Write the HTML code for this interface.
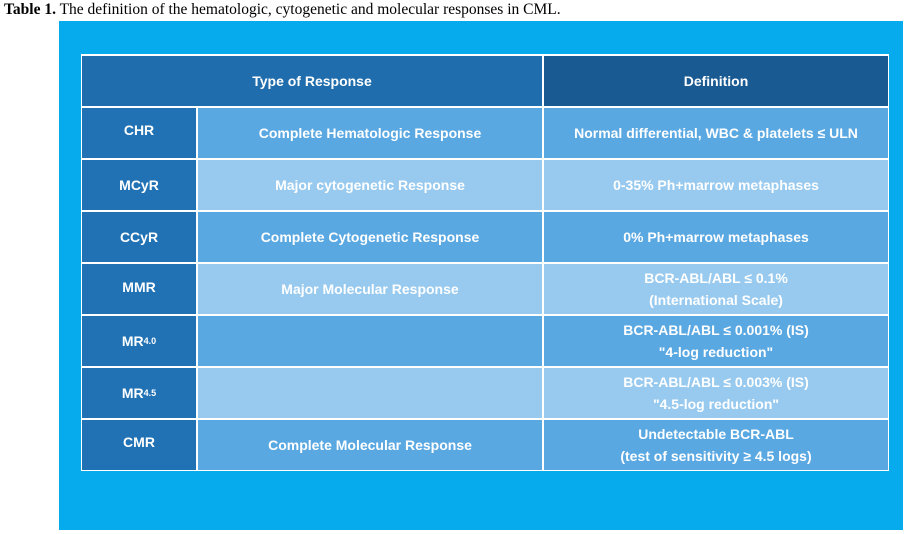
<!DOCTYPE html>
<html><head><meta charset="utf-8"><style>
body{margin:0;width:908px;height:534px;background:#fff;position:relative;overflow:hidden;font-family:"Liberation Sans",sans-serif}
.c{position:absolute;display:flex;align-items:center;justify-content:center;text-align:center;color:#fff;font-weight:bold;font-size:14px;line-height:22px}
.k{background:#2072b4}
.m{background:#5aa8e2}
.l{background:#98caef}
sup{font-size:9px;line-height:0}
</style></head><body>
<div style="position:absolute;left:4px;top:1px;font-family:'Liberation Serif',serif;font-size:15.5px;color:#000"><b>Table 1.</b> The definition of the hematologic, cytogenetic and molecular responses in CML.</div>
<div style="position:absolute;left:59px;top:21px;width:844px;height:509px;background:#05abec"></div>
<div style="position:absolute;left:81px;top:54px;width:808px;height:417px;background:#fff"></div>
<div class="c" style="left:82px;top:56px;width:460px;height:50px;background:#1f6dac">Type of Response</div>
<div class="c" style="left:544px;top:56px;width:344px;height:50px;background:#195a92">Definition</div>

<div class="c k" style="left:82px;top:108px;width:114px;height:50px;padding-bottom:6px;box-sizing:border-box">CHR</div>
<div class="c m" style="left:198px;top:108px;width:344px;height:50px">Complete Hematologic Response</div>
<div class="c m" style="left:544px;top:108px;width:344px;height:50px">Normal differential, WBC &amp; platelets ≤ ULN</div>

<div class="c k" style="left:82px;top:160px;width:114px;height:50px">MCyR</div>
<div class="c l" style="left:198px;top:160px;width:344px;height:50px">Major cytogenetic Response</div>
<div class="c l" style="left:544px;top:160px;width:344px;height:50px">0-35% Ph+marrow metaphases</div>

<div class="c k" style="left:82px;top:212px;width:114px;height:50px">CCyR</div>
<div class="c m" style="left:198px;top:212px;width:344px;height:50px">Complete Cytogenetic Response</div>
<div class="c m" style="left:544px;top:212px;width:344px;height:50px">0% Ph+marrow metaphases</div>

<div class="c k" style="left:82px;top:264px;width:114px;height:50px;padding-bottom:4px;box-sizing:border-box">MMR</div>
<div class="c l" style="left:198px;top:264px;width:344px;height:50px">Major Molecular Response</div>
<div class="c l" style="left:544px;top:264px;width:344px;height:50px">BCR-ABL/ABL ≤ 0.1%<br>(International Scale)</div>

<div class="c k" style="left:82px;top:316px;width:114px;height:50px">MR<sup>4.0</sup></div>
<div class="c m" style="left:198px;top:316px;width:344px;height:50px"></div>
<div class="c m" style="left:544px;top:316px;width:344px;height:50px">BCR-ABL/ABL ≤ 0.001% (IS)<br>"4-log reduction"</div>

<div class="c k" style="left:82px;top:368px;width:114px;height:50px">MR<sup>4.5</sup></div>
<div class="c l" style="left:198px;top:368px;width:344px;height:50px"></div>
<div class="c l" style="left:544px;top:368px;width:344px;height:50px">BCR-ABL/ABL ≤ 0.003% (IS)<br>"4.5-log reduction"</div>

<div class="c k" style="left:82px;top:420px;width:114px;height:50px;padding-bottom:6px;box-sizing:border-box">CMR</div>
<div class="c m" style="left:198px;top:420px;width:344px;height:50px">Complete Molecular Response</div>
<div class="c m" style="left:544px;top:420px;width:344px;height:50px">Undetectable BCR-ABL<br>(test of sensitivity ≥ 4.5 logs)</div>
</body></html>
